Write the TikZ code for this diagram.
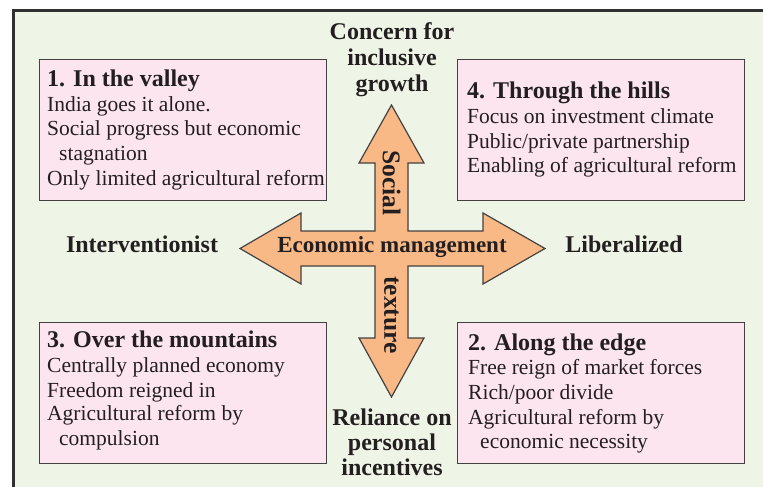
\documentclass[tikz,border=0pt]{standalone}
\usepackage{fontspec}
\setmainfont{Liberation Serif}
\definecolor{bgcol}{HTML}{EEF4E6}
\definecolor{boxcol}{HTML}{FCE5EF}
\definecolor{arrowcol}{HTML}{F9B986}
\definecolor{ink}{HTML}{231F20}
\definecolor{framecol}{HTML}{303030}
\begin{document}
\begin{tikzpicture}[x=1pt,y=-1pt,
  quad/.style={draw=ink!85, fill=boxcol, line width=1.3pt, inner sep=0pt,
    anchor=north west, minimum width=287pt, minimum height=141pt},
  head/.style={anchor=base west, inner sep=0pt, text=ink,
    font=\fontsize{24}{25}\selectfont\bfseries},
  body/.style={anchor=base west, inner sep=0pt, text=ink,
    font=\fontsize{21.5}{25}\selectfont},
  axislabel/.style={anchor=base, inner sep=0pt, text=ink,
    font=\fontsize{24}{26}\selectfont\bfseries},
  onarrow/.style={inner sep=0pt, text=ink,
    font=\fontsize{23}{25}\selectfont\bfseries},
  shaftlabel/.style={inner sep=0pt, text=ink, rotate=-90,
    font=\fontsize{25.5}{26}\selectfont\bfseries}]

\useasboundingbox (0,0) rectangle (763,487);
\clip (0,0) rectangle (763,487);
\fill[white] (0,0) rectangle (763,487);

% panel background and its frame
\fill[bgcol] (13.5,10.5) rectangle (790,510);
\draw[framecol, line width=3pt] (13.5,510) -- (13.5,10.5) -- (790,10.5);

% four-way arrow
\filldraw[fill=arrowcol, draw=ink!85, line width=1.2pt, line join=miter]
  (391.5,105) -- (424,163) -- (408,163) -- (408,231) -- (483,231) -- (483,213)
  -- (545,248.5) -- (483,284) -- (483,266) -- (408,266) -- (408,338) -- (424,338)
  -- (391.5,397) -- (359,338) -- (375,338) -- (375,266) -- (301,266) -- (301,284)
  -- (240,248.5) -- (301,213) -- (301,231) -- (375,231) -- (375,163) -- (359,163)
  -- cycle;

\node[onarrow, anchor=base] (em) at (392,252) {Economic management};
\node[shaftlabel] (soc) at (391.5,183) {Social};
\node[shaftlabel] (tex) at (391.5,315) {texture};

% axis ends
\node[axislabel] (top1) at (392,40) {Concern for};
\node[axislabel] (top2) at (392,66) {inclusive};
\node[axislabel] (top3) at (392,92) {growth};
\node[axislabel] (bot1) at (392,425) {Reliance on};
\node[axislabel] (bot2) at (392,450) {personal};
\node[axislabel] (bot3) at (392,475) {incentives};
\node[axislabel] (left) at (142,252) {Interventionist};
\node[axislabel] (right) at (624,252) {Liberalized};

% scenario 1
\node[quad] (q1) at (39,59) {};
\node[head] (q1h) at (47,86) {1. In the valley};
\node[body] (q1a) at (47,111) {India goes it alone.};
\node[body] (q1b) at (47,135) {Social progress but economic};
\node[body] (q1c) at (59,160) {stagnation};
\node[body] (q1d) at (47,185) {Only limited agricultural reform};

% scenario 4
\node[quad] (q4) at (457,59) {};
\node[head] (q4h) at (467,98) {4. Through the hills};
\node[body] (q4a) at (467,123) {Focus on investment climate};
\node[body] (q4b) at (467,148) {Public/private partnership};
\node[body] (q4c) at (467,172) {Enabling of agricultural reform};

% scenario 3
\node[quad] (q3) at (39,322) {};
\node[head] (q3h) at (47,347) {3. Over the mountains};
\node[body] (q3a) at (47,372) {Centrally planned economy};
\node[body] (q3b) at (47,397) {Freedom reigned in};
\node[body] (q3c) at (47,420) {Agricultural reform by};
\node[body] (q3d) at (59,445) {compulsion};

% scenario 2
\node[quad] (q2) at (457,322) {};
\node[head] (q2h) at (468,350) {2. Along the edge};
\node[body] (q2a) at (468,374) {Free reign of market forces};
\node[body] (q2b) at (468,399) {Rich/poor divide};
\node[body] (q2c) at (468,424) {Agricultural reform by};
\node[body] (q2d) at (480,448) {economic necessity};
\end{tikzpicture}
\end{document}
